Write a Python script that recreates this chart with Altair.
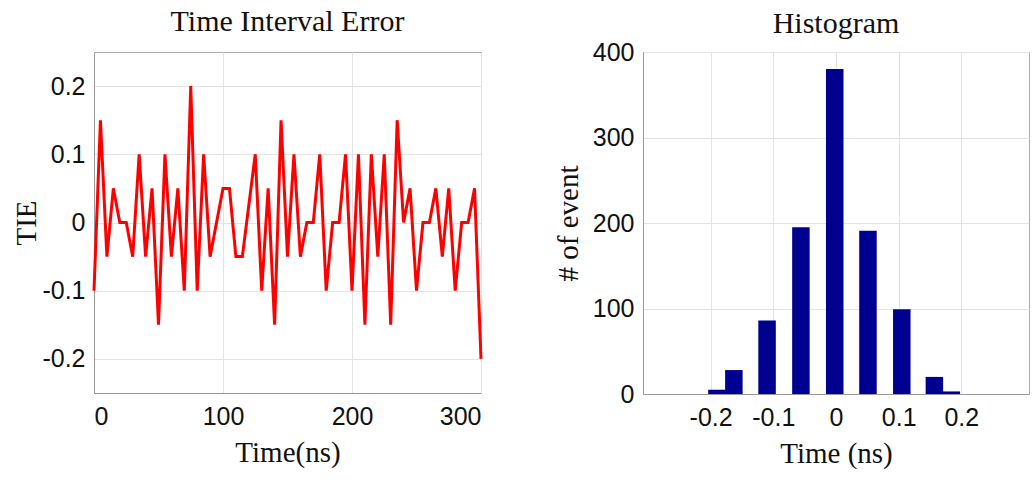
import altair as alt
import pandas as pd

# ---- Data: Time Interval Error trace ----
time_ns = list(range(0, 301, 5))
tie = [-0.1, 0.15, -0.05, 0.05, 0.0, 0.0, -0.05, 0.1, -0.05, 0.05,
       -0.15, 0.1, -0.05, 0.05, -0.1, 0.2, -0.1, 0.1, -0.05, 0.0,
       0.05, 0.05, -0.05, -0.05, 0.025, 0.1, -0.1, 0.05, -0.15, 0.15,
       -0.05, 0.1, -0.05, 0.0, 0.0, 0.1, -0.1, 0.0, 0.0, 0.1,
       -0.1, 0.1, -0.15, 0.1, -0.05, 0.1, -0.15, 0.15, 0.0, 0.05,
       -0.1, 0.0, 0.0, 0.05, -0.05, 0.05, -0.1, 0.0, 0.0, 0.05,
       -0.2]

# ---- Data: histogram ----
bin_centers = [-0.19, -0.163, -0.11, -0.056, -0.002, 0.051, 0.105, 0.157, 0.184]
counts = [5, 28, 86, 195, 380, 191, 99, 20, 3]

left_x_ticks = [0, 100, 200, 300]
left_y_ticks = [-0.2, -0.1, 0, 0.1, 0.2]
right_x_ticks = [-0.2, -0.1, 0, 0.1, 0.2]
right_y_ticks = [0, 100, 200, 300, 400]

serif = "Liberation Serif"
sans = "Liberation Sans"

df_tie = pd.DataFrame({"t": time_ns, "tie": tie})
df_hist = pd.DataFrame({"center": bin_centers, "count": counts})

label_expr = "'' + datum.value"


def axis(values, title, title_pad, label_pad):
    return alt.Axis(
        values=values,
        title=title,
        labelExpr=label_expr,
        labelFont=sans,
        labelFontSize=25,
        labelColor="#111111",
        labelPadding=label_pad,
        ticks=False,
        domainColor="#999999",
        gridColor="#e3e3e3",
        titleFont=serif,
        titleFontSize=29,
        titleFontWeight="normal",
        titleColor="#111111",
        titlePadding=title_pad,
    )


left = (
    alt.Chart(df_tie)
    .mark_line(color="#ff0000", strokeWidth=3)
    .encode(
        x=alt.X("t:Q", scale=alt.Scale(domain=[0, 300], nice=False),
                axis=axis(left_x_ticks, "Time(ns)", 9, 11)),
        y=alt.Y("tie:Q", scale=alt.Scale(domain=[-0.25, 0.25], nice=False),
                axis=axis(left_y_ticks, "TIE", 0, 9)),
    )
    .properties(
        width=387,
        height=341,
        title=alt.TitleParams("Time Interval Error", font=serif, fontSize=30,
                              fontWeight="normal", color="#111111", offset=15),
    )
)

right = (
    alt.Chart(df_hist)
    .mark_bar(color="#000090", size=17.5)
    .encode(
        x=alt.X("center:Q", scale=alt.Scale(domain=[-0.3, 0.3], nice=False),
                axis=axis(right_x_ticks, "Time (ns)", 9, 11)),
        y=alt.Y("count:Q", scale=alt.Scale(domain=[0, 400], nice=False),
                axis=axis(right_y_ticks, "# of event", 9, 9)),
    )
    .properties(
        width=386,
        height=342,
        title=alt.TitleParams("Histogram", font=serif, fontSize=30,
                              fontWeight="normal", color="#111111", offset=1),
    )
)

chart = (
    alt.hconcat(left, right, spacing=65)
    .properties(padding={"left": 12, "top": 6, "right": 0, "bottom": 0})
    .configure_view(stroke="#aaaaaa", strokeWidth=1)
    .configure_title(anchor="middle")
)

chart.save("out.html", embed_options={"renderer": "svg", "actions": False})
